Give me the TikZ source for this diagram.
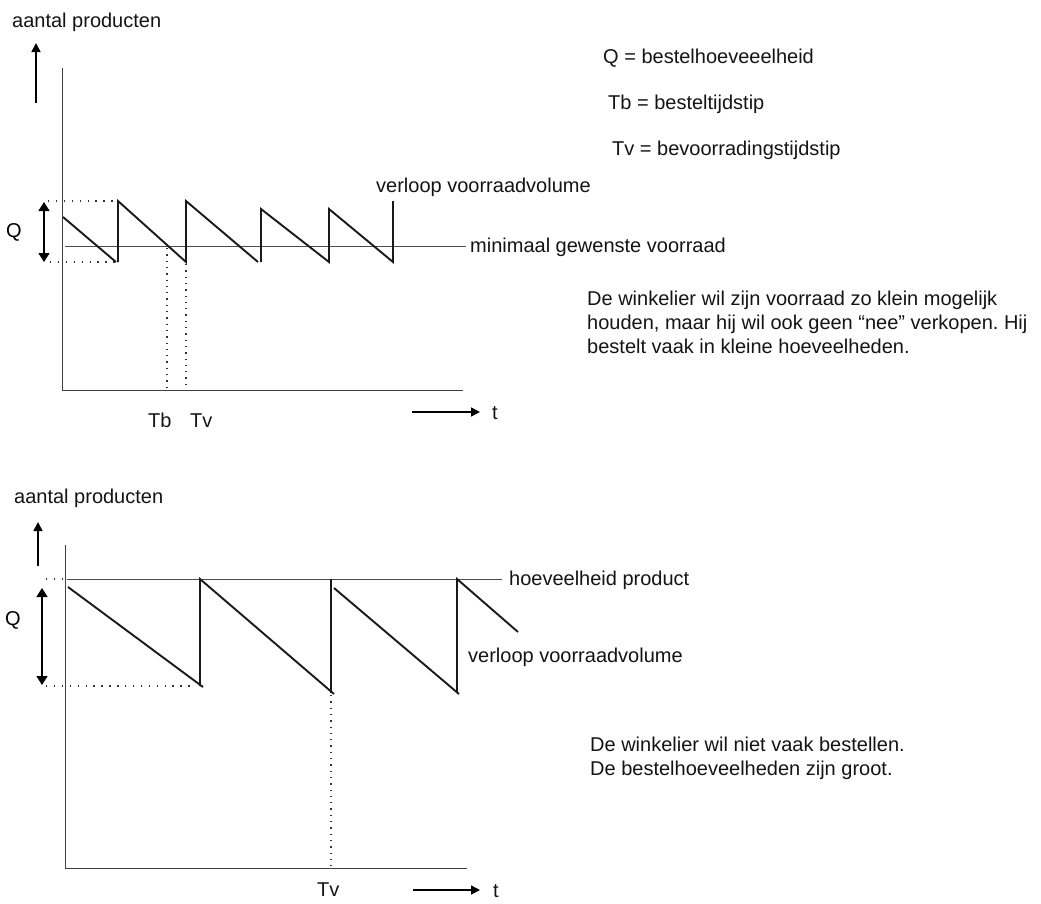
\documentclass[tikz,border=0pt]{standalone}
\usepackage{fontspec}
\setmainfont{Liberation Sans}
\usetikzlibrary{arrows.meta}
\frenchspacing
\begin{document}
\begin{tikzpicture}[x=1pt,y=-1pt,
  lbl/.style={inner sep=0pt,anchor=base west,font=\fontsize{20}{24}\selectfont,text=black!92},
  para/.style={lbl,align=left,font=\fontsize{20}{23.7}\selectfont},
  axis/.style={line width=1pt,draw=black!75},
  saw/.style={line width=1.9pt,draw=black!90},
  refline/.style={line width=1pt,draw=black!70},
  dots/.style={line width=1.3pt,draw=black!80,dash pattern=on 1.4pt off 6.5pt},
  uparrow/.style={line width=1.6pt,-{Triangle[length=9pt,width=9pt]}},
  qarrow/.style={line width=1.6pt,{Triangle[length=9pt,width=11pt]}-{Triangle[length=9pt,width=11pt]}},
  tarrow/.style={line width=1.6pt,-{Triangle[length=9pt,width=9pt]}}]
\useasboundingbox (0,0) rectangle (1041,903);

% ================= TOP GRAPH =================
\node[lbl] (ylab1) at (12,27) {aantal producten};
\coordinate (ua1s) at (36,103);
\coordinate (ua1e) at (36,43);
\draw[uparrow] (ua1s) -- (ua1e);

\coordinate (o1) at (62,390);
\coordinate (yt1) at (62,68);
\coordinate (xe1) at (463,390);
\draw[axis] (yt1) -- (o1) -- (xe1);

% Q arrow and dotted guides
\coordinate (q1t) at (44,202);
\coordinate (q1b) at (44,262);
\draw[qarrow] (q1b) -- (q1t);
\node[inner sep=0pt,font=\fontsize{20}{24}\selectfont] (Q1) at (14,232) {Q};
\coordinate (dt1a) at (48,201);
\coordinate (dt1b) at (117,201);
\coordinate (db1a) at (50,262);
\coordinate (db1b) at (115,262);
\draw[dots] (dt1a) -- (dt1b);
\draw[dots] (db1a) -- (db1b);

% minimum line
\coordinate (min1a) at (65,246);
\coordinate (min1b) at (466,246);
\draw[refline] (min1a) -- (min1b);
\node[lbl] (minlab) at (470,252) {minimaal gewenste voorraad};

% sawtooth
\coordinate (s0) at (63,217);
\coordinate (s1) at (116,262);
\coordinate (s1v) at (118,262);
\coordinate (s2) at (118,201);
\coordinate (s3) at (186,262);
\coordinate (s4) at (186,201);
\coordinate (s5) at (258,262);
\coordinate (s6b) at (261,262);
\coordinate (s6) at (261,209);
\coordinate (s7) at (329,262);
\coordinate (s8) at (329,209);
\coordinate (s9) at (393,262);
\coordinate (s10) at (393,201);
\draw[saw] (s0) -- (s1);
\draw[saw] (s1v) -- (s2) -- (s3) -- (s4) -- (s5);
\draw[saw] (s6b) -- (s6) -- (s7) -- (s8) -- (s9) -- (s10);
\node[lbl] (verl1) at (376,192) {verloop voorraadvolume};

% Tb / Tv guides
\coordinate (tb1) at (167,248);
\coordinate (tb2) at (167,388);
\coordinate (tv1) at (186,264);
\coordinate (tv2) at (186,388);
\draw[dots,dash pattern=on 1.3pt off 5pt] (tb1) -- (tb2);
\draw[dots,dash pattern=on 1.3pt off 5pt] (tv1) -- (tv2);
\node[lbl] (Tb) at (148,427) {Tb};
\node[lbl] (Tv) at (190,427) {Tv};

% time arrow
\coordinate (ta1) at (412,412);
\coordinate (ta2) at (480,412);
\draw[tarrow] (ta1) -- (ta2);
\node[lbl] (t1) at (492,419) {t};

% legend
\node[lbl] (legQ) at (603,63) {Q = bestelhoeveeelheid};
\node[lbl] (legTb) at (608,109) {Tb = besteltijdstip};
\node[lbl] (legTv) at (612,155) {Tv = bevoorradingstijdstip};

\node[para] (par1) at (587,353) {De winkelier wil zijn voorraad zo klein mogelijk\\houden, maar hij wil ook geen “nee” verkopen. Hij\\bestelt vaak in kleine hoeveelheden.};

% ================= BOTTOM GRAPH =================
\node[lbl] (ylab2) at (14,503) {aantal producten};
\coordinate (ua2s) at (38,566);
\coordinate (ua2e) at (38,522);
\draw[uparrow] (ua2s) -- (ua2e);

\coordinate (o2) at (65,868);
\coordinate (yt2) at (65,545);
\coordinate (xe2) at (467,868);
\draw[axis] (yt2) -- (o2) -- (xe2);

% max line
\coordinate (max2a) at (67,579);
\coordinate (max2b) at (502,579);
\coordinate (max2d) at (46,579);
\draw[refline] (max2a) -- (max2b);
\draw[dots] (max2d) -- (max2a);
\node[lbl] (hoev) at (509,585) {hoeveelheid product};

% Q arrow
\coordinate (q2t) at (42,588);
\coordinate (q2b) at (42,685);
\draw[qarrow] (q2b) -- (q2t);
\node[inner sep=0pt,font=\fontsize{20}{24}\selectfont] (Q2) at (13,620) {Q};
\coordinate (db2a) at (46,686);
\coordinate (db2b) at (193,686);
\draw[dots] (db2a) -- (db2b);

% sawtooth
\coordinate (b0) at (68,587);
\coordinate (b1) at (203,687);
\coordinate (b1v) at (200,686);
\coordinate (b2) at (200,579);
\coordinate (b3) at (334,694);
\coordinate (b4b) at (331,693);
\coordinate (b4) at (331,579);
\coordinate (b5) at (334,588);
\coordinate (b6) at (459,694);
\coordinate (b7b) at (457,693);
\coordinate (b7) at (457,579);
\coordinate (b8) at (518,632);
\draw[saw] (b0) -- (b1);
\draw[saw] (b1v) -- (b2) -- (b3);
\draw[saw] (b4b) -- (b4);
\draw[saw] (b5) -- (b6);
\draw[saw] (b7b) -- (b7) -- (b8);
\node[lbl] (verl2) at (468,662) {verloop voorraadvolume};

% Tv guide
\coordinate (tvb1) at (331,695);
\coordinate (tvb2) at (331,866);
\draw[dots,dash pattern=on 1.3pt off 5pt] (tvb1) -- (tvb2);
\node[lbl] (Tv2) at (317,896) {Tv};

% time arrow
\coordinate (tb2a) at (413,890);
\coordinate (tb2b) at (480,890);
\draw[tarrow] (tb2a) -- (tb2b);
\node[lbl] (t2) at (493,897) {t};

\node[para] (par2) at (590,775) {De winkelier wil niet vaak bestellen.\\De bestelhoeveelheden zijn groot.};
\end{tikzpicture}
\end{document}
